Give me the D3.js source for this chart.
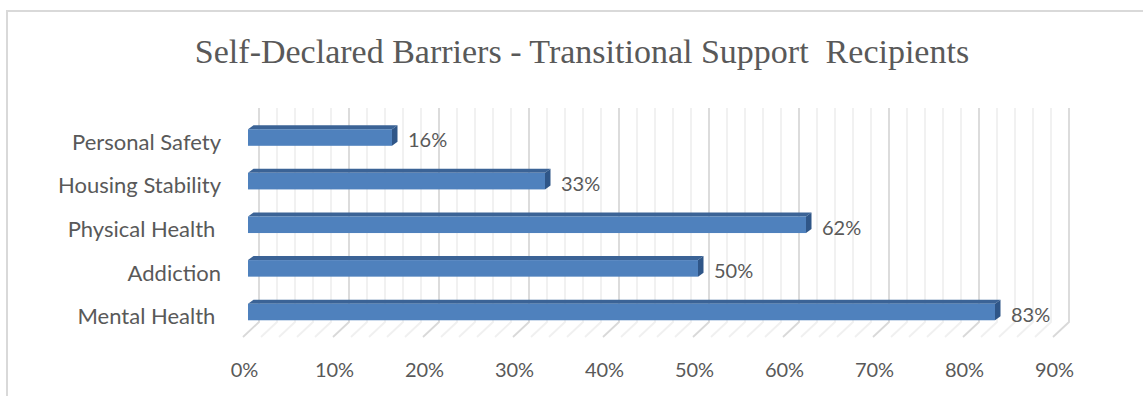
<!DOCTYPE html>
<html>
<head>
<meta charset="utf-8">
<script src="https://cdn.jsdelivr.net/npm/d3@7"></script>
<style>
  html, body { margin: 0; padding: 0; background: #fff; overflow: hidden; }
  text { white-space: pre; }
</style>
</head>
<body>
<svg id="chart" width="1143" height="396"></svg>
<script>
// Survey results: share of recipients reporting each barrier
const categories = ["Mental Health ", "Addiction", "Physical Health ", "Housing Stability", "Personal Safety"];
const values = [0.83, 0.50, 0.62, 0.33, 0.16];
const tickValues = [0, 0.1, 0.2, 0.3, 0.4, 0.5, 0.6, 0.7, 0.8, 0.9];
const chartTitle = "Self-Declared Barriers - Transitional Support  Recipients";

const svg = d3.select("#chart");
const textColor = "#595959";
const labelFont = "Lato, 'Open Sans', sans-serif";

// 3D box geometry: back wall, floor depth and bar depth
const wallTop = 108, wallBottom = 322;
const floorDx = -16, floorDy = 15;      // back wall -> front edge of floor
const barFrontShift = -11;              // bar front face relative to back wall
const barDx = 5.5, barDy = 4;           // bar thickness in depth

const xBack = d3.scaleLinear().domain([0, 0.9]).range([259, 1069]);
const xLabel = d3.scaleLinear().domain([0, 0.9]).range([244, 1054]);
const y = d3.scaleBand()
  .domain(categories)
  .range([333.8, 115.7])
  .paddingInner(0.62)
  .paddingOuter(0.31);

// chart frame
svg.append("rect")
  .attr("x", 7).attr("y", 11)
  .attr("width", 1160).attr("height", 420)
  .attr("fill", "none")
  .attr("stroke", "#d9d9d9")
  .attr("stroke-width", 2);

// gridlines on wall and floor
const gridTicks = xBack.ticks(45);
const isMajor = v => Math.round(v * 100) % 10 === 0;
const grid = svg.append("g").attr("fill", "none");
[false, true].forEach(major => {
  const ticks = gridTicks.filter(v => isMajor(v) === major);
  const color = major ? "#d9d9d9" : "#f0f0f0";
  grid.selectAll(null).data(ticks).enter().append("path")
    .attr("d", v => {
      const x0 = xBack(v);
      return `M${x0},${wallTop}V${wallBottom}L${x0 + floorDx},${wallBottom + floorDy}`;
    })
    .attr("stroke", color)
    .attr("stroke-width", 1.8);
});

// bars
const bw = y.bandwidth();
const bars = svg.append("g").selectAll("g")
  .data(categories.map((c, i) => ({ c, v: values[i] })))
  .enter().append("g");

bars.append("path")  // top face
  .attr("d", d => {
    const x0 = xBack(0) + barFrontShift, x1 = xBack(d.v) + barFrontShift, t = y(d.c);
    return `M${x0},${t}L${x0 + barDx},${t - barDy}L${x1 + barDx},${t - barDy}L${x1},${t}Z`;
  })
  .attr("fill", "#3b6396");

bars.append("path")  // end face
  .attr("d", d => {
    const x1 = xBack(d.v) + barFrontShift, t = y(d.c);
    return `M${x1},${t}L${x1 + barDx},${t - barDy}L${x1 + barDx},${t + bw - barDy}L${x1},${t + bw}Z`;
  })
  .attr("fill", "#2f5688");

bars.append("rect")  // front face
  .attr("x", xBack(0) + barFrontShift)
  .attr("y", d => y(d.c))
  .attr("width", d => xBack(d.v) - xBack(0))
  .attr("height", bw)
  .attr("fill", "#4f81bd");

// value labels
bars.append("text")
  .attr("x", d => xBack(d.v) + barFrontShift + 16)
  .attr("y", d => y(d.c) + bw / 2 + 9.8)
  .attr("font-family", labelFont)
  .attr("font-size", 20)
  .attr("fill", textColor)
  .text(d => d3.format(".0%")(d.v));

// category axis
const yAxis = svg.append("g")
  .attr("transform", "translate(221,0)")
  .call(d3.axisLeft(y).tickSize(0).tickPadding(0));
yAxis.select(".domain").remove();
yAxis.selectAll("text")
  .attr("dy", "0.56em")
  .attr("font-family", labelFont)
  .attr("font-size", 22)
  .attr("fill", textColor);

// value axis
const xAxis = svg.append("g")
  .attr("transform", "translate(0,360)")
  .call(d3.axisBottom(xLabel).tickValues(tickValues).tickSize(0).tickPadding(3).tickFormat(d3.format(".0%")));
xAxis.select(".domain").remove();
xAxis.selectAll("text")
  .attr("font-family", labelFont)
  .attr("font-size", 20)
  .attr("fill", textColor);

// title
svg.append("text")
  .attr("x", 582)
  .attr("y", 63)
  .attr("text-anchor", "middle")
  .attr("font-family", "'Liberation Serif', serif")
  .attr("font-size", 34)
  .attr("fill", textColor)
  .text(chartTitle);
</script>
</body>
</html>
